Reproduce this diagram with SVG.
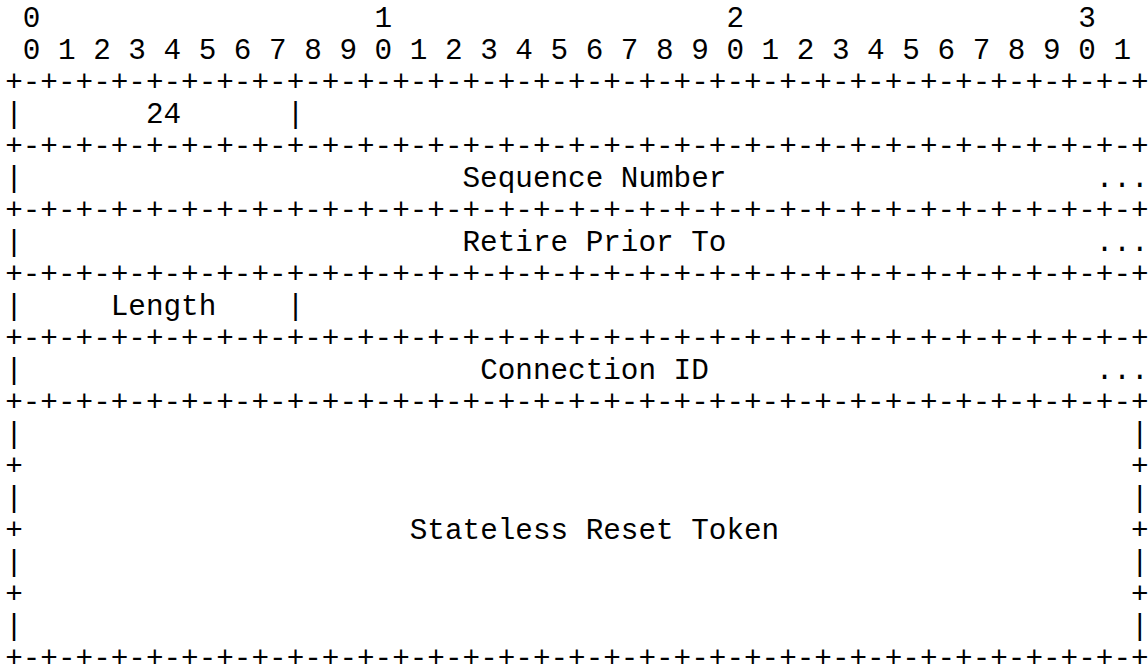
<svg xmlns="http://www.w3.org/2000/svg" xmlns:xlink="http://www.w3.org/1999/xlink" width="1148" height="669" viewBox="0 0 1148 669">
<style>
text{font-family:"Liberation Mono","Courier New",monospace;font-size:29.32px;fill:#000;white-space:pre}
</style>
<defs>
<text id="border" x="5.2">+-+-+-+-+-+-+-+-+-+-+-+-+-+-+-+-+-+-+-+-+-+-+-+-+-+-+-+-+-+-+-+-+</text>
</defs>
<rect width="1148" height="669" fill="#fff"/>
<g id="ruler">
<text x="22.79" y="26.5">0</text>
<text x="374.59" y="26.5">1</text>
<text x="726.39" y="26.5">2</text>
<text x="1078.19" y="26.5">3</text>
<text x="22.79" y="58.5">0 1 2 3 4 5 6 7 8 9 0 1 2 3 4 5 6 7 8 9 0 1 2 3 4 5 6 7 8 9 0 1</text>
</g>
<g id="connectors">
<use xlink:href="#border" y="90.5"/>
<use xlink:href="#border" y="154.5"/>
<use xlink:href="#border" y="218.5"/>
<use xlink:href="#border" y="282.5"/>
<use xlink:href="#border" y="346.5"/>
<use xlink:href="#border" y="410.5"/>
<use xlink:href="#border" y="666.5"/>
</g>
<g id="field-type">
<text x="5.2" y="122.5">|</text>
<text x="145.92" y="122.5">24</text>
<text x="286.64" y="122.5">|</text>
</g>
<g id="field-sequence-number">
<text x="5.2" y="186.5">|</text>
<text x="462.54" y="186.5">Sequence Number</text>
<text x="1095.78" y="186.5">...</text>
</g>
<g id="field-retire-prior-to">
<text x="5.2" y="250.5">|</text>
<text x="462.54" y="250.5">Retire Prior To</text>
<text x="1095.78" y="250.5">...</text>
</g>
<g id="field-length">
<text x="5.2" y="314.5">|</text>
<text x="110.74" y="314.5">Length</text>
<text x="286.64" y="314.5">|</text>
</g>
<g id="field-connection-id">
<text x="5.2" y="378.5">|</text>
<text x="480.13" y="378.5">Connection ID</text>
<text x="1095.78" y="378.5">...</text>
</g>
<g id="field-stateless-reset-token">
<text x="5.2" y="442.5">|</text><text x="1130.96" y="442.5">|</text>
<text x="5.2" y="474.5">+</text><text x="1130.96" y="474.5">+</text>
<text x="5.2" y="506.5">|</text><text x="1130.96" y="506.5">|</text>
<text x="5.2" y="538.5">+</text><text x="409.77" y="538.5">Stateless Reset Token</text><text x="1130.96" y="538.5">+</text>
<text x="5.2" y="570.5">|</text><text x="1130.96" y="570.5">|</text>
<text x="5.2" y="602.5">+</text><text x="1130.96" y="602.5">+</text>
<text x="5.2" y="634.5">|</text><text x="1130.96" y="634.5">|</text>
</g>
</svg>
